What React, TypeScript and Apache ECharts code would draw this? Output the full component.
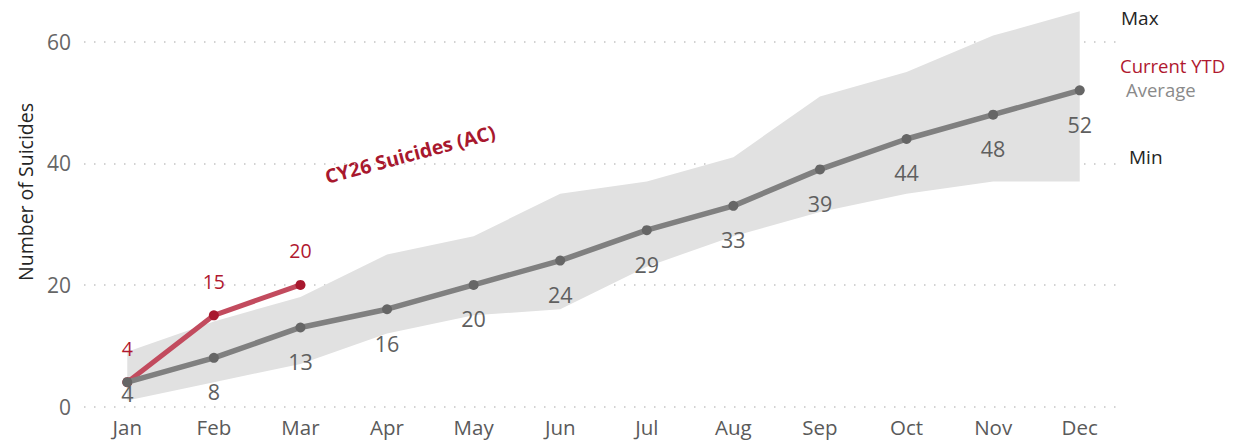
import React, { useEffect, useRef } from "react";
import * as echarts from "echarts";

const months = ["Jan", "Feb", "Mar", "Apr", "May", "Jun", "Jul", "Aug", "Sep", "Oct", "Nov", "Dec"];
const averageValues = [4, 8, 13, 16, 20, 24, 29, 33, 39, 44, 48, 52];
const currentYtdValues = [4, 15, 20];
const maxValues = [9, 14, 18, 25, 28, 35, 37, 41, 51, 55, 61, 65];
const minValues = [1, 4, 7, 12, 15, 16, 23, 28, 32, 35, 37, 37];
const yTicks = [0, 20, 40, 60];

const FONT = "'Segoe UI', 'Open Sans', 'Noto Sans', sans-serif";

export default function App() {
  const ref = useRef<HTMLDivElement>(null);

  useEffect(() => {
    if (!ref.current) return;
    const chart = echarts.init(ref.current, null, { renderer: "svg" });
    const rangeValues = maxValues.map((v, i) => v - minValues[i]);
    const avgData = averageValues.map((v, i) =>
      i === 0 ? { value: v, label: { distance: -5 } } : v
    );

    chart.setOption({
      animation: false,
      textStyle: { fontFamily: FONT },
      grid: { left: 84, right: 123, top: 41.7, bottom: 35.5, containLabel: false },
      xAxis: {
        type: "category",
        data: months,
        boundaryGap: true,
        axisLine: { show: false },
        axisTick: { show: false },
        axisLabel: { color: "#5a5a5a", fontSize: 20.5, margin: 10, fontFamily: FONT },
      },
      yAxis: {
        type: "value",
        min: yTicks[0],
        max: yTicks[yTicks.length - 1],
        interval: 20,
        axisLine: { show: false },
        axisTick: { show: false },
        axisLabel: { color: "#666666", fontSize: 21, margin: 13, fontFamily: FONT },
        splitLine: {
          show: true,
          lineStyle: { color: "#c4c4c4", width: 1.5, type: [1.5, 8.5] },
        },
      },
      series: [
        {
          name: "Min",
          type: "line",
          stack: "band",
          data: minValues,
          symbol: "none",
          lineStyle: { opacity: 0 },
          silent: true,
          clip: false,
          z: 1,
        },
        {
          name: "Max",
          type: "line",
          stack: "band",
          data: rangeValues,
          symbol: "none",
          lineStyle: { opacity: 0 },
          areaStyle: { color: "#e1e1e1", opacity: 1 },
          silent: true,
          clip: false,
          z: 1,
        },
        {
          name: "Current YTD",
          type: "line",
          data: currentYtdValues,
          symbol: "circle",
          symbolSize: 10,
          itemStyle: { color: "#a8182e" },
          lineStyle: { color: "#c24b5e", width: 5 },
          label: {
            show: true,
            position: "top",
            distance: 19,
            color: "#b0182f",
            fontSize: 19.5,
            fontFamily: FONT,
          },
          clip: false,
          z: 3,
        },
        {
          name: "Average",
          type: "line",
          data: avgData,
          symbol: "circle",
          symbolSize: 10,
          itemStyle: { color: "#666666" },
          lineStyle: { color: "#808080", width: 5.5 },
          label: {
            show: true,
            position: "bottom",
            distance: 18,
            color: "#5f5f5f",
            fontSize: 21.5,
            fontFamily: FONT,
          },
          clip: false,
          z: 4,
        },
      ],
      graphic: [
        {
          type: "text",
          x: 25,
          y: 192,
          rotation: Math.PI / 2,
          style: {
            text: "Number of Suicides",
            fill: "#252525",
            font: `19.5px ${FONT}`,
            align: "center",
            verticalAlign: "middle",
          },
        },
        {
          type: "text",
          x: 410,
          y: 154,
          rotation: (15 * Math.PI) / 180,
          style: {
            text: "CY26 Suicides (AC)",
            fill: "#a8182e",
            font: `bold 19.5px ${FONT}`,
            align: "center",
            verticalAlign: "middle",
          },
        },
        {
          type: "text",
          x: 1121,
          y: 18,
          style: { text: "Max", fill: "#252525", font: `19px ${FONT}`, verticalAlign: "middle" },
        },
        {
          type: "text",
          x: 1120,
          y: 65.5,
          style: { text: "Current YTD", fill: "#b0182f", font: `18.5px ${FONT}`, verticalAlign: "middle" },
        },
        {
          type: "text",
          x: 1126,
          y: 89.5,
          style: { text: "Average", fill: "#8a8a8a", font: `18.5px ${FONT}`, verticalAlign: "middle" },
        },
        {
          type: "text",
          x: 1129,
          y: 157,
          style: { text: "Min", fill: "#252525", font: `19px ${FONT}`, verticalAlign: "middle" },
        },
      ],
    });

    return () => chart.dispose();
  }, []);

  return (
    <div
      ref={ref}
      style={{ position: "fixed", left: 0, top: 0, width: 1246, height: 442, background: "#ffffff" }}
    />
  );
}
